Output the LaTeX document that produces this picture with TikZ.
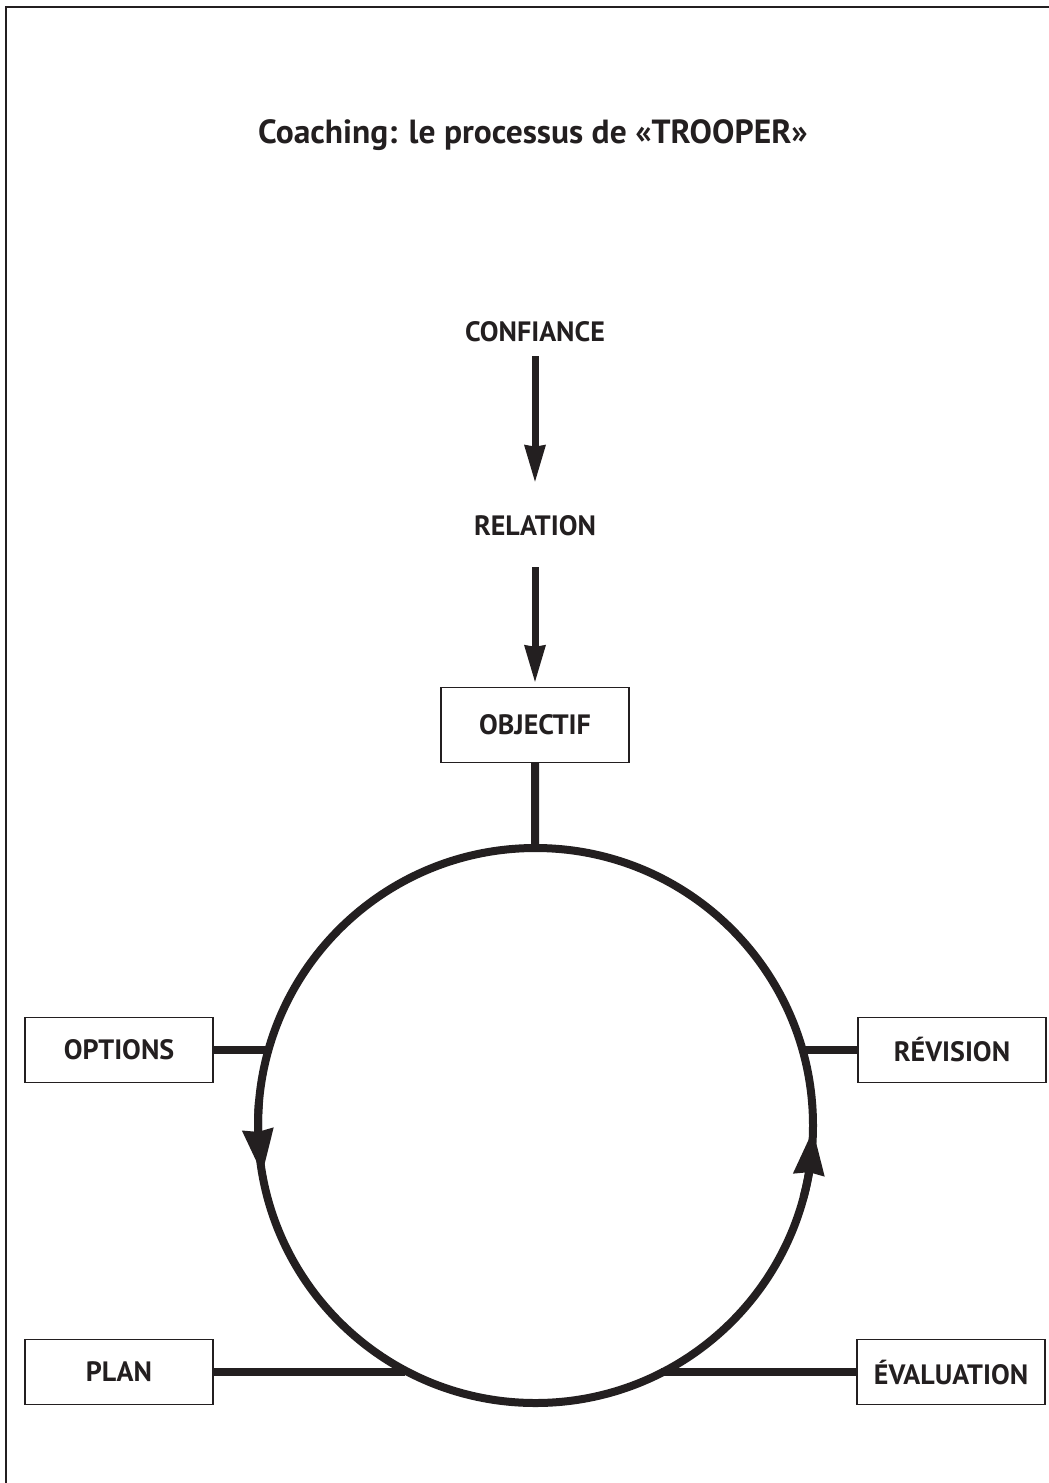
\documentclass[tikz,border=0pt]{standalone}
\usepackage{fontspec}
\setmainfont{PT Sans}
\usepackage{tikz}
\usetikzlibrary{arrows.meta, bending, positioning}
\definecolor{ink}{RGB}{35,31,32}
\tikzstyle{stage}=[rectangle, minimum width=188pt, minimum height=65pt, text centered, draw=ink, line width=1.4pt, text=ink, font=\fontsize{28}{32}\selectfont\bfseries]
\tikzstyle{phase}=[inner sep=0pt, text=ink, font=\fontsize{28}{32}\selectfont\bfseries]
\tikzstyle{ring}=[circle, draw=ink, line width=8pt, minimum size=555pt, outer sep=0pt, inner sep=0pt]
\tikzstyle{arrow}=[line width=7pt, draw=ink, -{Stealth[length=37pt, width=22pt, inset=2pt, line width=0pt]}]
\tikzstyle{ringarrow}=[line width=8pt, draw=ink, -{Stealth[length=45pt, width=32pt, inset=3pt, line width=0pt]}]
\tikzstyle{link}=[line width=8pt, draw=ink]
\tikzstyle{frame}=[line width=2pt, draw=ink]

\begin{document}
\begin{tikzpicture}[x=1pt, y=1pt, node distance=194pt]
		\useasboundingbox (0,0) rectangle (1049,-1483);
		\draw[frame](1049,-7) -| (6,-1483);
		
		\node(t)[phase, font=\fontsize{33.5}{38}\selectfont\bfseries] at (533,-135){Coaching: le processus de «TROOPER»};
		\node(n1)[phase] at (535,-332){CONFIANCE};
		\node(n2)[phase, below of=n1]{RELATION};
		\node(n3)[stage, below of=n2, node distance=199pt, minimum height=75pt]{OBJECTIF};
		\node(n4)[ring] at (535.5,-1125.5){};
		\node(n4-1)[stage] at (119,-1050){OPTIONS};
		\node(n4-2)[stage] at (952,-1050){RÉVISION};
		\node(n5-1)[stage] at (119,-1372){PLAN};
		\node(n5-2)[stage] at (951,-1372){ÉVALUATION};
		
		\draw[arrow, shorten <=14pt, shorten >=34pt](n1)--(n2);
		\draw[arrow, shorten <=31pt, shorten >=5pt](n2)--(n3);
		\draw[link](n3)--(n4);
		\draw[link](n4-1.east)--(n4-1.east -| n4.164.2);
		\draw[link](n4-2.west)--(n4-2.west -| n4.15.8);
		\draw[link](n5-1.east)--(n5-1.east -| n4.242.6);
		\draw[link](n5-2.west)--(n5-2.west -| n4.297.4);
		\draw[ringarrow](n4.175) arc[start angle=175, end angle=190, radius=277.5pt];
		\draw[ringarrow](n4.345) arc[start angle=-15, end angle=-1, radius=277.5pt];
	\end{tikzpicture}
\end{document}
